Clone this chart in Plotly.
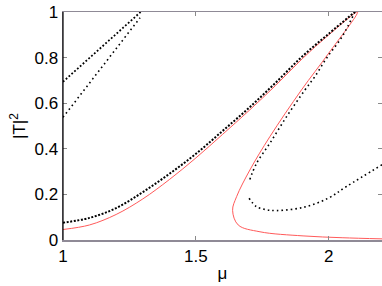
import plotly.graph_objects as go

# Red curve (fold): upper branch, then middle and lower branches
red_mu = [1.0, 1.1, 1.2, 1.3, 1.4, 1.5, 1.6, 1.7, 1.8, 1.9, 2.0, 2.108,
          2.0, 1.897, 1.778, 1.703, 1.653, 1.638, 1.659, 1.741, 1.903, 2.05, 2.2]
red_T = [0.046, 0.066, 0.112, 0.180, 0.265, 0.360, 0.463, 0.568, 0.678, 0.795, 0.900, 1.0,
         0.82, 0.658, 0.453, 0.307, 0.190, 0.130, 0.066, 0.036, 0.018, 0.010, 0.005]

# Black dotted: main branch
main_mu = [1.0, 1.1, 1.2, 1.3, 1.4, 1.5, 1.6, 1.7, 1.8, 1.9, 2.0, 2.098]
main_T = [0.076, 0.097, 0.140, 0.210, 0.290, 0.378, 0.478, 0.580, 0.690, 0.805, 0.905, 1.0]

# Black dotted: second branch (returning from top)
b2_mu = [2.098, 2.05, 1.991, 1.947, 1.910, 1.841, 1.778, 1.728, 1.700]
b2_T = [1.0, 0.892, 0.797, 0.716, 0.658, 0.541, 0.424, 0.336, 0.256]

# Black dotted: third branch (lower)
b3_mu = [1.700, 1.728, 1.765, 1.803, 1.903, 1.997, 2.067, 2.2]
b3_T = [0.183, 0.146, 0.133, 0.129, 0.143, 0.183, 0.235, 0.330]

# Black dotted: top-left lines
tl1_mu = [1.0, 1.292]
tl1_T = [0.694, 1.0]
tl2_mu = [1.0, 1.29]
tl2_T = [0.538, 0.975]

x_ticks = [1, 1.5, 2]
x_labels = ["1", "1.5", "2"]
y_ticks = [0, 0.2, 0.4, 0.6, 0.8, 1]
y_labels = ["0", "0.2", "0.4", "0.6", "0.8", "1"]

fig = go.Figure()
fig.add_trace(go.Scatter(x=red_mu, y=red_T, mode="lines",
                         line=dict(color="#ff5a5a", width=1, shape="spline")))
fig.add_trace(go.Scatter(x=main_mu, y=main_T, mode="lines",
                         line=dict(color="black", width=2, dash="2px,1.6px", shape="spline")))
fig.add_trace(go.Scatter(x=b2_mu, y=b2_T, mode="lines",
                         line=dict(color="black", width=1.6, dash="1.6px,3.2px", shape="spline")))
fig.add_trace(go.Scatter(x=b3_mu, y=b3_T, mode="lines",
                         line=dict(color="black", width=1.6, dash="1.6px,3px", shape="spline")))
fig.add_trace(go.Scatter(x=tl1_mu, y=tl1_T, mode="lines",
                         line=dict(color="black", width=1.8, dash="1.8px,2px")))
fig.add_trace(go.Scatter(x=tl2_mu, y=tl2_T, mode="lines",
                         line=dict(color="black", width=1.6, dash="1.6px,3.2px")))

font = dict(family="Liberation Sans, Arial, sans-serif", size=17, color="black")
fig.update_layout(
    width=382, height=286,
    margin=dict(l=63, r=0, t=12, b=46, autoexpand=False),
    paper_bgcolor="white", plot_bgcolor="white",
    showlegend=False, font=font,
    xaxis=dict(range=[1, 2.2], tickvals=x_ticks, ticktext=x_labels, automargin=False,
               showgrid=False, zeroline=False, showline=True, linecolor="#8f8a96",
               linewidth=1.5, mirror="ticks", ticks="inside", ticklen=4, tickcolor="#8a8a8a",
               title=dict(text="μ", standoff=2, font=font)),
    yaxis=dict(range=[0, 1], tickvals=y_ticks, ticktext=y_labels, automargin=False,
               showgrid=False, zeroline=False, showline=True, linecolor="#8f8a96",
               linewidth=1.5, mirror="ticks", ticks="inside", ticklen=4, tickcolor="#8a8a8a",
               title=dict(text="|T|<sup>2</sup>", standoff=4, font=font)),
)
# left axis line darker
fig.add_shape(type="line", xref="paper", yref="paper", x0=0, x1=0, y0=0, y1=1,
              line=dict(color="black", width=1.2))

fig.write_html("out.html", config={"displayModeBar": False, "staticPlot": True},
               post_script="document.body.style.margin='0';document.body.style.overflow='hidden';")
